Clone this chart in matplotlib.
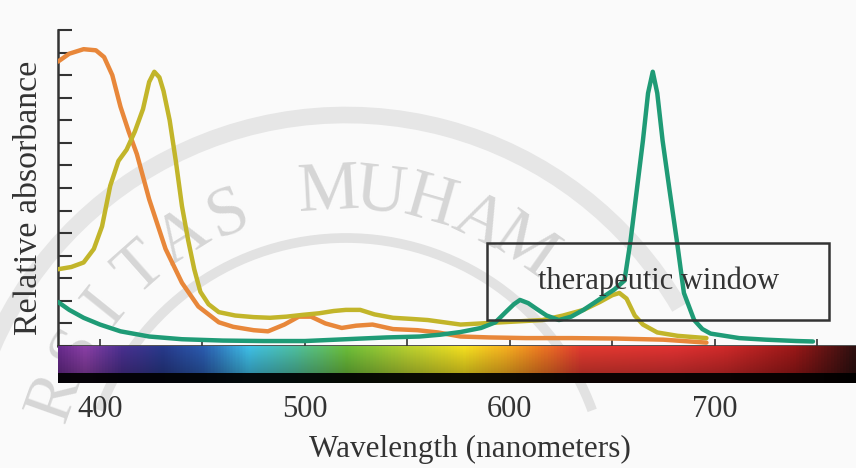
import numpy as np
import matplotlib.pyplot as plt
from matplotlib.colors import LinearSegmentedColormap
from matplotlib.patches import Rectangle, Arc

plt.rcParams['font.family'] = ['Liberation Serif', 'DejaVu Serif']

## DATA (y in tick units 0..14)
orange_wl = [379.5, 385, 392, 398, 402, 406, 410, 414, 418, 424, 432, 440, 448,
             458, 465, 475, 482, 490, 497, 503, 510, 518, 525, 533, 543, 555,
             565, 576, 590, 608, 630, 652, 675, 696]
orange_abs = [12.6, 12.95, 13.15, 13.1, 12.8, 12.0, 10.6, 9.5, 8.5, 6.5, 4.3, 2.8, 1.75,
              1.05, 0.85, 0.7, 0.65, 0.95, 1.3, 1.3, 1.0, 0.8, 0.9, 0.95, 0.75, 0.7,
              0.6, 0.42, 0.38, 0.35, 0.35, 0.33, 0.28, 0.15]

yellow_wl = [379.5, 386, 392, 397, 401, 405, 409, 413, 417, 421, 424, 426.5, 429, 431,
             434, 437, 440, 443, 446, 449, 453, 458, 466, 475, 483, 491, 499, 507,
             514, 520, 527, 534, 543, 552, 560, 568, 576, 586, 596, 606, 616, 626,
             636, 644, 650, 653.5, 657, 661, 665, 672, 682, 696]
yellow_abs = [3.4, 3.5, 3.7, 4.3, 5.3, 7.1, 8.2, 8.7, 9.5, 10.5, 11.7, 12.15, 11.9, 11.3,
              10.0, 8.2, 6.2, 4.7, 3.4, 2.4, 1.85, 1.5, 1.35, 1.28, 1.25, 1.3, 1.38, 1.45,
              1.55, 1.6, 1.6, 1.4, 1.25, 1.2, 1.15, 1.05, 0.95, 1.0, 1.05, 1.1, 1.15, 1.35,
              1.6, 1.95, 2.25, 2.35, 2.1, 1.35, 0.95, 0.6, 0.45, 0.35]

green_wl = [379.5, 385, 392, 400, 410, 424, 440, 460, 480, 500, 520, 540, 556, 566,
            576, 586, 593, 598, 602, 605, 609, 613, 618, 624, 630, 636, 641, 646,
            651, 656, 659, 662, 665, 667.5, 669.8, 672, 674.6, 678, 681.5, 685, 690,
            694, 698, 705, 712, 725, 740, 748]
green_abs = [1.95, 1.6, 1.25, 0.95, 0.65, 0.42, 0.3, 0.24, 0.22, 0.22, 0.3, 0.38, 0.42, 0.5,
             0.62, 0.8, 1.05, 1.5, 1.85, 2.04, 1.9, 1.65, 1.35, 1.15, 1.3, 1.6, 1.9, 2.2,
             2.5, 2.9, 4.7, 6.9, 9.1, 11.2, 12.15, 11.2, 9.1, 6.9, 4.7, 2.35, 1.15,
             0.75, 0.55, 0.45, 0.35, 0.28, 0.22, 0.2]

major_ticks = [400, 500, 600, 700]
minor_ticks = [450, 550, 650, 750]

window_box = (589, 1.15, 167, 3.4)   # x, y, width, height
window_label = "therapeutic window"
watermark = "RSITAS MUHAM"   # the visible part of the background stamp

# visible spectrum stops (wavelength, colour)
spectrum = [(379.5, '#6a2c8e'), (392, '#8a3fa6'), (410, '#4a3090'), (430, '#283a8c'),
            (450, '#2b5cb0'), (472, '#3fc0e8'), (495, '#4fc0a0'), (520, '#6cbf3a'),
            (550, '#b8d030'), (578, '#f5e020'), (598, '#f6b020'), (615, '#ee7a22'),
            (635, '#e23a30'), (680, '#e03232'), (705, '#d02a2a'), (740, '#9a1818'),
            (769, '#301010')]

xlim = (379.5, 769)
txt = '#333333'

fig = plt.figure(figsize=(8.56, 4.68), dpi=100)
fig.patch.set_facecolor('#fafafa')

# faint watermark behind everything (pixel coordinates)
bg = fig.add_axes([0, 0, 1, 1])
bg.set_xlim(0, 856)
bg.set_ylim(468, 0)
bg.set_axis_off()
cx, cy, r = 346, 500, 308
for i, ch in enumerate(watermark):
    th = np.radians(-70.4 + 9.6 * i)
    bg.text(cx + r * np.sin(th), cy - r * np.cos(th), ch, rotation=-np.degrees(th),
            ha='center', va='center', fontsize=50, color='#d6d6d6', zorder=0)
bg.add_patch(Arc((cx, cy), 2 * 262, 2 * 262, theta1=200, theta2=340,
                 color='#e2e2e2', lw=7, zorder=0))
bg.add_patch(Arc((cx, cy), 2 * 385, 2 * 385, theta1=150, theta2=330,
                 color='#e6e6e6', lw=12, zorder=0))

ax = fig.add_axes([58/856, 122/468, 798/856, 316/468])
ax.set_facecolor('none')

ax.plot(orange_wl, orange_abs, color='#e8873a', lw=3.2, solid_capstyle='round',
        solid_joinstyle='round', zorder=3)
ax.plot(yellow_wl, yellow_abs, color='#c2b52a', lw=3.2, solid_capstyle='round',
        solid_joinstyle='round', zorder=4)
ax.plot(green_wl, green_abs, color='#1f9b76', lw=3.2, solid_capstyle='round',
        solid_joinstyle='round', zorder=5)

ax.add_patch(Rectangle(window_box[:2], window_box[2], window_box[3], fill=False,
                       edgecolor='#333333', lw=1.8, zorder=6))
ax.text(window_box[0] + window_box[2]/2, window_box[1] + window_box[3]/2, window_label,
        ha='center', va='center', fontsize=22, color=txt, zorder=7)

ax.set_xlim(*xlim)
ax.set_ylim(0, 14)
ax.set_yticks(range(15))
ax.set_yticklabels([])
ax.set_xticks(major_ticks)
ax.set_xticks(minor_ticks, minor=True)
ax.tick_params(axis='y', direction='in', length=10, width=1.5, color='#333333')
ax.tick_params(axis='x', which='both', direction='in', length=5, width=1.2,
               color='#333333', pad=35, labelsize=22, labelcolor=txt)
for s in ['top', 'right']:
    ax.spines[s].set_visible(False)
ax.spines['left'].set_linewidth(1.8)
ax.spines['left'].set_color('#333333')
ax.spines['bottom'].set_linewidth(1.2)
ax.spines['bottom'].set_color('#333333')

ax.set_xlabel('Wavelength (nanometers)', fontsize=22.5, color=txt)
ax.xaxis.set_label_coords(0.516, -0.28)
ax.set_ylabel('Relative absorbance', fontsize=24.5, color=txt)
ax.yaxis.set_label_coords(-0.018, 0.47)

# spectrum bar under the axis
bar = fig.add_axes([58/856, 85/468, 798/856, 37/468])
cmap = LinearSegmentedColormap.from_list(
    'spec', [((w - xlim[0]) / (xlim[1] - xlim[0]), c) for w, c in spectrum])
cols = cmap(np.linspace(0, 1, 800))[:, :3]
shade = np.r_[np.linspace(1.0, 0.75, 27), np.zeros(10) + 0.05]
img = shade[:, None, None] * cols[None, :, :]
bar.imshow(img, aspect='auto', extent=(xlim[0], xlim[1], 0, 1), interpolation='bilinear')
bar.set_axis_off()

plt.savefig('out.png', dpi=100, facecolor=fig.get_facecolor())
